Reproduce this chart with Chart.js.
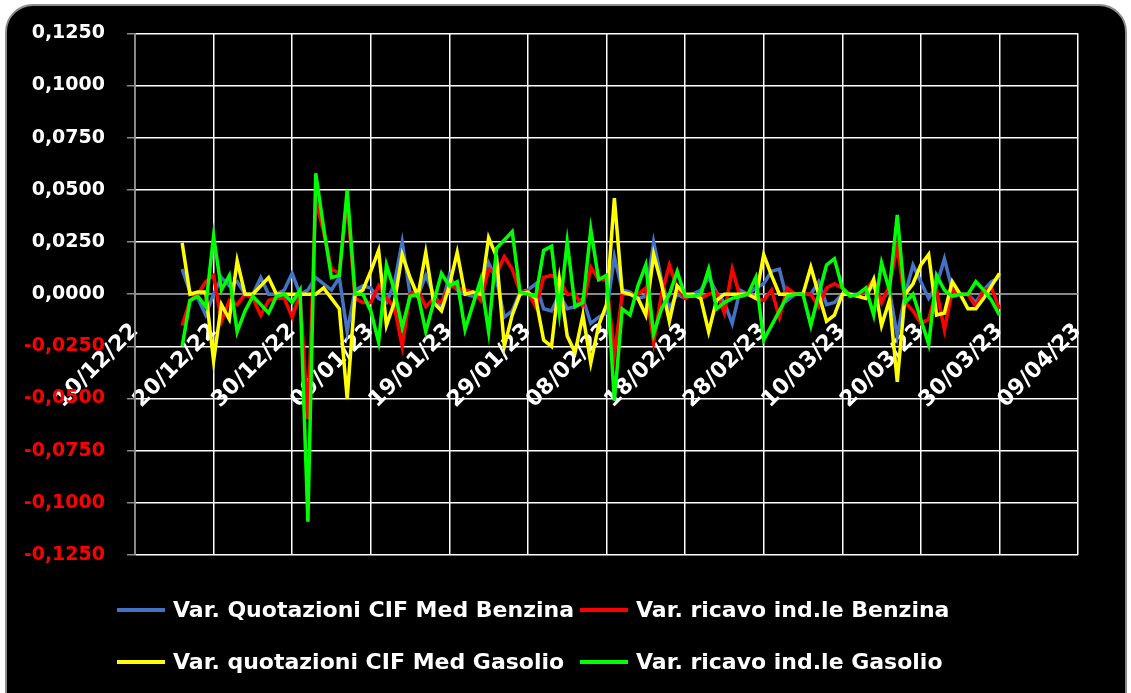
<!DOCTYPE html>
<html>
<head>
<meta charset="utf-8">
<script src="https://cdn.jsdelivr.net/npm/chart.js@4.4.1/dist/chart.umd.min.js"></script>
<style>
  html, body { margin: 0; padding: 0; background: #fff; }
  body { width: 1131px; height: 693px; overflow: hidden; position: relative; }
  #frame {
    position: absolute; left: 5px; top: 4px; width: 1122px; height: 720px;
    background: #000; border: 2px solid #8c8c8c; border-radius: 28px; box-sizing: border-box;
  }
  #chart { position: absolute; left: 0; top: 0; }
</style>
</head>
<body>
<div id="frame"></div>
<canvas id="chart" width="1131" height="693"></canvas>
<script>
// Axis starts on 10/12/22, ticks every 10 days up to 09/04/23
const axisStart = [2022, 11, 10];
const axisDays = 120;
const tickStepDays = 10;
// Daily values, first one on 16/12/22 (day 6 of the axis)
const firstValueDay = 6;

const yTicks = { min: -0.125, max: 0.125, step: 0.025 };

const seriesNames = [
  'Var. Quotazioni CIF Med Benzina',
  'Var. ricavo ind.le Benzina',
  'Var. quotazioni CIF Med Gasolio',
  'Var. ricavo ind.le Gasolio'
];

const quotBenzina = [
  0.012, 0.001, -0.002, -0.010, 0.000, 0.008, 0.004, 0.006, 0.000, 0.000,
  0.008, 0.000, 0.000, 0.002, 0.010, 0.000, 0.002, 0.008, 0.005, 0.002,
  0.008, -0.018, 0.002, 0.004, 0.003, -0.002, -0.004, 0.005, 0.025, 0.000,
  -0.001, 0.009, 0.000, -0.006, 0.009, 0.002, 0.000, -0.001, 0.000, 0.015,
  0.007, -0.011, -0.008, 0.001, 0.002, 0.005, -0.007, -0.008, 0.000, -0.007,
  -0.006, -0.002, -0.014, -0.011, -0.009, 0.018, 0.002, 0.001, -0.002, -0.001,
  0.025, 0.007, -0.007, 0.000, -0.002, 0.000, 0.002, 0.008, 0.001, -0.004,
  -0.014, 0.002, 0.000, 0.003, 0.005, 0.011, 0.012, -0.003, 0.000, 0.000,
  0.000, 0.006, -0.005, -0.004, 0.000, 0.000, 0.000, 0.001, 0.004, -0.003,
  0.002, -0.020, 0.000, 0.014, 0.006, -0.002, 0.004, 0.017, 0.002, 0.000,
  0.000, -0.004, 0.002, 0.006, 0.008
];

const ricavoBenzina = [
  -0.015, -0.003, 0.000, 0.006, 0.009, -0.013, -0.003, -0.005, 0.000, -0.002,
  -0.010, -0.003, -0.002, -0.002, -0.011, 0.000, -0.060, 0.045, 0.030, 0.012,
  0.010, 0.045, -0.002, -0.004, -0.004, 0.004, -0.002, -0.006, -0.025, 0.000,
  0.002, -0.006, -0.002, -0.004, 0.004, 0.003, 0.002, 0.001, -0.003, 0.012,
  0.010, 0.018, 0.012, 0.001, 0.001, -0.006, 0.008, 0.009, 0.007, 0.000,
  0.000, -0.006, 0.013, 0.007, 0.007, -0.029, 0.000, 0.000, 0.000, 0.003,
  -0.023, 0.000, 0.014, 0.003, -0.002, 0.000, -0.002, 0.000, 0.001, -0.009,
  0.012, -0.001, 0.000, -0.002, -0.003, 0.002, -0.011, 0.003, 0.000, 0.000,
  0.000, -0.006, 0.003, 0.005, 0.003, 0.000, -0.001, 0.002, 0.007, -0.004,
  0.004, 0.023, -0.004, -0.008, -0.014, -0.012, 0.002, -0.017, 0.002, 0.000,
  0.000, -0.006, 0.002, 0.003, -0.007
];

const quotGasolio = [
  0.0246, 0.000, 0.001, 0.001, -0.032, -0.005, -0.012, 0.016, 0.000, 0.000,
  0.004, 0.008, 0.000, 0.000, 0.000, 0.000, 0.000, 0.000, 0.003, -0.002,
  -0.007, -0.050, 0.000, 0.002, 0.011, 0.021, -0.015, -0.004, 0.019, 0.008,
  -0.001, 0.020, -0.004, -0.008, 0.004, 0.020, 0.000, 0.001, 0.000, 0.027,
  0.018, -0.025, -0.010, 0.000, 0.001, -0.002, -0.022, -0.025, 0.007, -0.020,
  -0.028, -0.010, -0.033, -0.015, -0.005, 0.046, 0.001, 0.000, -0.002, -0.010,
  0.019, 0.005, -0.013, 0.004, 0.000, 0.000, -0.002, -0.018, -0.003, 0.000,
  0.000, 0.000, 0.000, -0.002, 0.019, 0.009, 0.000, 0.000, 0.000, 0.000,
  0.013, 0.000, -0.013, -0.010, 0.000, 0.000, -0.001, -0.002, 0.007, -0.015,
  -0.003, -0.042, 0.000, 0.005, 0.014, 0.019, -0.010, -0.009, 0.006, 0.000,
  -0.007, -0.007, -0.002, 0.004, 0.010
];

const ricavoGasolio = [
  -0.025, -0.003, -0.001, -0.006, 0.028, 0.002, 0.009, -0.018, -0.008, -0.001,
  -0.005, -0.009, -0.001, 0.000, -0.004, 0.002, -0.109, 0.058, 0.032, 0.008,
  0.009, 0.050, 0.000, 0.000, -0.008, -0.023, 0.014, 0.002, -0.016, -0.001,
  0.000, -0.018, -0.004, 0.010, 0.004, 0.006, -0.017, -0.005, 0.007, -0.018,
  0.022, 0.026, 0.030, 0.001, 0.000, -0.001, 0.021, 0.023, -0.009, 0.025,
  -0.006, -0.004, 0.031, 0.007, 0.009, -0.051, -0.007, -0.010, 0.004, 0.014,
  -0.019, -0.007, 0.000, 0.011, -0.001, -0.001, 0.000, 0.012, -0.007, -0.004,
  -0.002, -0.001, 0.000, 0.008, -0.022, -0.015, -0.008, -0.001, 0.000, 0.000,
  -0.015, 0.000, 0.014, 0.017, 0.003, -0.001, 0.000, 0.003, -0.010, 0.015,
  0.002, 0.038, -0.004, 0.000, -0.012, -0.024, 0.009, 0.002, -0.001, 0.000,
  0.000, 0.006, 0.002, -0.003, -0.010
];

const seriesColors = ['#4472c4', '#ff0000', '#ffff00', '#00ff00'];

function pad2(n) {
  return (n < 10 ? '0' : '') + n;
}

// day offset on the axis -> dd/mm/yy
function dayLabel(day) {
  const d = new Date(axisStart[0], axisStart[1], axisStart[2] + day);
  return pad2(d.getDate()) + '/' + pad2(d.getMonth() + 1) + '/' + String(d.getFullYear()).slice(2);
}

function toPoints(values) {
  return values.map((v, i) => ({ x: firstValueDay + i, y: v }));
}

const allSeries = [quotBenzina, ricavoBenzina, quotGasolio, ricavoGasolio];

const datasets = allSeries.map((values, i) => ({
  label: seriesNames[i],
  data: toPoints(values),
  borderColor: seriesColors[i],
  backgroundColor: seriesColors[i],
  borderWidth: 3.5,
  pointRadius: 0,
  tension: 0,
  // later series are painted on top, like the original
  order: allSeries.length - i
}));

// Two-column legend under the plot, Excel style (tight column gap, wide row gap)
const twoColumnLegend = {
  id: 'twoColumnLegend',
  afterDraw(chart) {
    const ctx = chart.ctx;
    const colX = [117, 580];
    const firstRowY = chart.chartArea.bottom + 55;
    const rowGap = 52;
    ctx.save();
    ctx.font = 'bold 22px "DejaVu Sans"';
    ctx.textBaseline = 'middle';
    ctx.textAlign = 'left';
    chart.data.datasets.forEach((ds, i) => {
      const x = colX[i % 2];
      const y = firstRowY + Math.floor(i / 2) * rowGap;
      ctx.strokeStyle = ds.borderColor;
      ctx.lineWidth = 4;
      ctx.beginPath();
      ctx.moveTo(x, y);
      ctx.lineTo(x + 48, y);
      ctx.stroke();
      ctx.fillStyle = '#ffffff';
      ctx.fillText(ds.label, x + 56, y + 1);
    });
    ctx.restore();
  }
};

new Chart(document.getElementById('chart'), {
  type: 'line',
  data: { datasets: datasets },
  plugins: [twoColumnLegend],
  options: {
    responsive: false,
    animation: false,
    layout: {
      padding: { left: 25, right: 53, top: 33, bottom: 138 }
    },
    scales: {
      x: {
        type: 'linear',
        min: 0,
        max: axisDays,
        position: { y: 0 },
        grid: { color: '#ffffff', lineWidth: 1.5, drawTicks: false },
        border: { color: '#8c8c8c', width: 1.5 },
        ticks: {
          stepSize: tickStepDays,
          autoSkip: false,
          minRotation: 45,
          maxRotation: 45,
          padding: 24,
          color: '#ffffff',
          font: { family: 'DejaVu Sans', size: 22, weight: 'bold' },
          callback: (value) => dayLabel(value)
        }
      },
      y: {
        min: yTicks.min,
        max: yTicks.max,
        grid: { color: '#ffffff', lineWidth: 1.5, tickColor: '#8c8c8c', tickLength: 8 },
        border: { color: '#8c8c8c', width: 1.5 },
        ticks: {
          stepSize: yTicks.step,
          padding: 22,
          color: (ctx) => (ctx.tick.value < -1e-9 ? '#ff0000' : '#ffffff'),
          font: { family: 'DejaVu Sans', size: 19, weight: 'bold' },
          callback: (value) => (Math.abs(value) < 1e-9 ? 0 : value).toFixed(4).replace('.', ',')
        },
        afterFit: (scale) => { scale.width = 110; }
      }
    },
    plugins: {
      legend: { display: false },
      tooltip: { enabled: false }
    }
  }
});
</script>
</body>
</html>
